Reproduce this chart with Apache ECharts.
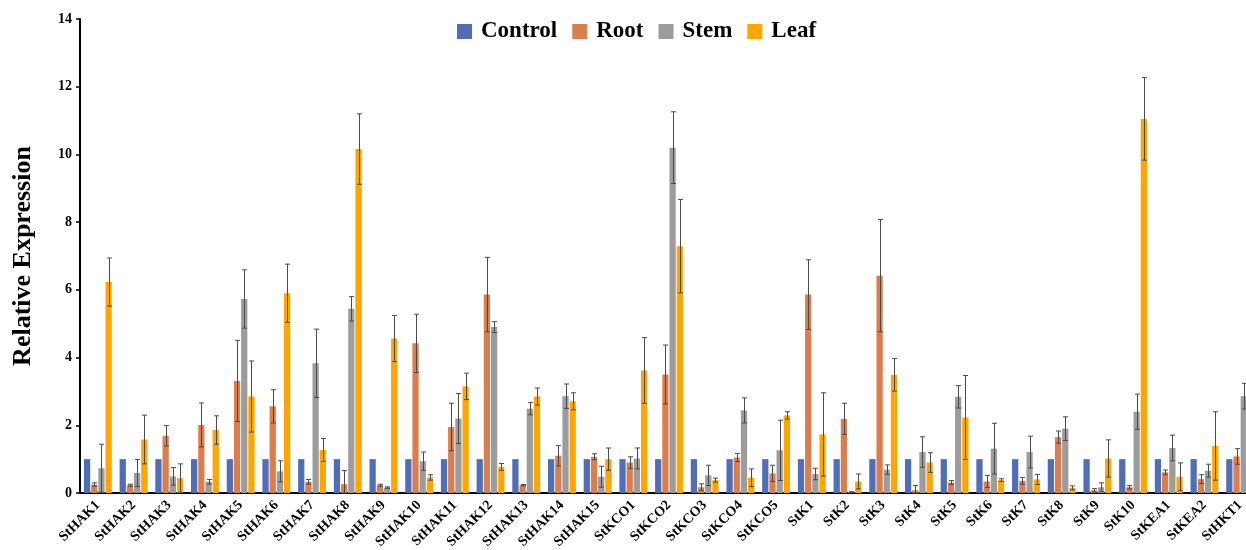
<!DOCTYPE html>
<html>
<head>
<meta charset="utf-8">
<script src="https://cdn.jsdelivr.net/npm/echarts@6/dist/echarts.min.js"></script>
<style>html,body{margin:0;padding:0;background:#fff;}#c{width:1246px;height:550px;}</style>
</head>
<body>
<div id="c"></div>
<script>
const categories = ['StHAK1','StHAK2','StHAK3','StHAK4','StHAK5','StHAK6','StHAK7','StHAK8','StHAK9','StHAK10','StHAK11','StHAK12','StHAK13','StHAK14','StHAK15','StKCO1','StKCO2','StKCO3','StKCO4','StKCO5','StK1','StK2','StK3','StK4','StK5','StK6','StK7','StK8','StK9','StK10','StKEA1','StKEA2','StHKT1'];
const seriesNames = ['Control','Root','Stem','Leaf'];
const control = [1,1,1,1,1,1,1,1,1,1,1,1,1,1,1,1,1,1,1,1,1,1,1,1,1,1,1,1,1,1,1,1,1];
const root = [0.25,0.23,1.69,2.01,3.31,2.56,0.33,0.26,0.23,4.42,1.95,5.86,0.23,1.1,1.07,0.9,3.5,0.17,1.05,0.58,5.86,2.19,6.42,0.08,0.31,0.34,0.36,1.65,0.08,0.17,0.61,0.41,1.08];
const rootErr = [0.05,0.03,0.3,0.65,1.2,0.49,0.07,0.4,0.03,0.86,0.7,1.1,0.02,0.3,0.09,0.17,0.87,0.1,0.12,0.24,1.03,0.46,1.66,0.14,0.06,0.18,0.1,0.18,0.05,0.05,0.07,0.13,0.23];
const stem = [0.73,0.59,0.49,0.33,5.73,0.64,3.83,5.44,0.16,0.94,2.2,4.9,2.49,2.86,0.48,1.02,10.2,0.52,2.44,1.26,0.56,0.03,0.69,1.21,2.84,1.31,1.21,1.9,0.17,2.4,1.33,0.66,2.86];
const stemErr = [0.71,0.4,0.26,0.07,0.86,0.31,1.01,0.36,0.02,0.27,0.74,0.16,0.18,0.36,0.31,0.31,1.06,0.3,0.37,0.89,0.17,0.01,0.14,0.45,0.33,0.75,0.47,0.35,0.13,0.52,0.38,0.19,0.38];
const leaf = [6.23,1.58,0.44,1.86,2.85,5.9,1.27,10.16,4.56,0.46,3.15,0.77,2.85,2.71,1.0,3.62,7.29,0.38,0.45,2.29,1.73,0.34,3.49,0.9,2.23,0.38,0.4,0.15,1.02,11.05,0.48,1.39,2.37];
const leafErr = [0.71,0.72,0.42,0.42,1.05,0.86,0.34,1.04,0.68,0.08,0.39,0.1,0.25,0.25,0.33,0.97,1.38,0.06,0.26,0.11,1.23,0.22,0.48,0.29,1.24,0.04,0.15,0.06,0.55,1.22,0.41,1.01,0.3];

const colors = ['#4F6EB5','#DA7E4E','#9C9C9C','#FFA500'];
const CAT_GAP = 0.22, BAR_GAP = 0.15, N = 4;
const FONT = '"Liberation Serif","Times New Roman",serif';

function errSeries(k, vals, errs) {
  return {
    type: 'custom',
    name: seriesNames[k] + ' err',
    z: 5,
    silent: true,
    data: vals.map((v, i) => [i, v, errs[i]]),
    renderItem: function (params, api) {
      const i = api.value(0), v = api.value(1), e = api.value(2);
      const band = api.size([1, 0])[0];
      const remain = band * (1 - CAT_GAP);
      const w = remain / (N + (N - 1) * BAR_GAP);
      const total = w * N + w * (N - 1) * BAR_GAP;
      const off = -total / 2 + k * w * (1 + BAR_GAP) + w / 2;
      const top = api.coord([i, v + e]);
      const bot = api.coord([i, Math.max(0, v - e)]);
      const x = Math.round(top[0] + off) + 0.5;
      const cap = 2.5;
      const st = { stroke: '#4a4a4a', lineWidth: 1 };
      return {
        type: 'group',
        children: [
          { type: 'line', shape: { x1: x, y1: top[1], x2: x, y2: bot[1] }, style: st },
          { type: 'line', shape: { x1: x - cap, y1: top[1], x2: x + cap, y2: top[1] }, style: st },
          { type: 'line', shape: { x1: x - cap, y1: bot[1], x2: x + cap, y2: bot[1] }, style: st }
        ]
      };
    }
  };
}

const chart = echarts.init(document.getElementById('c'));
const barData = [control, root, stem, leaf];
const series = barData.map((d, k) => ({
  type: 'bar',
  name: seriesNames[k],
  data: d,
  barCategoryGap: (CAT_GAP * 100) + '%',
  barGap: (BAR_GAP * 100) + '%',
  itemStyle: { color: colors[k] },
  animation: false
}));
series.push(errSeries(1, root, rootErr));
series.push(errSeries(2, stem, stemErr));
series.push(errSeries(3, leaf, leafErr));

chart.setOption({
  animation: false,
  backgroundColor: '#fff',
  color: colors,
  legend: {
    data: seriesNames,
    left: 452,
    top: 15,
    itemWidth: 15,
    itemHeight: 15,
    itemGap: 15,
    icon: 'rect',
    textStyle: { fontFamily: FONT, fontWeight: 'bold', fontSize: 23, color: '#000', padding: [0, 0, 0, 4] }
  },
  grid: { left: 80, width: 1178, top: 19, height: 474, containLabel: false, outerBoundsMode: 'none' },
  xAxis: {
    type: 'category',
    data: categories,
    axisLine: { lineStyle: { color: '#000', width: 2 } },
    axisTick: { show: false },
    axisLabel: { rotate: 45, interval: 0, fontFamily: FONT, fontWeight: 'bold', fontSize: 14, color: '#000', margin: 10 }
  },
  yAxis: {
    type: 'value',
    min: 0, max: 14, interval: 2,
    name: 'Relative Expression',
    nameLocation: 'middle',
    nameRotate: 90,
    nameGap: 44,
    nameTextStyle: { fontFamily: FONT, fontWeight: 'bold', fontSize: 26, color: '#000' },
    splitLine: { show: false },
    axisLine: { show: true, lineStyle: { color: '#000', width: 2 } },
    axisTick: { show: true, length: 4, lineStyle: { color: '#000', width: 1.5 } },
    axisLabel: { fontFamily: FONT, fontWeight: 'bold', fontSize: 14, color: '#000', margin: 8 }
  },
  series: series
});
</script>
</body>
</html>
